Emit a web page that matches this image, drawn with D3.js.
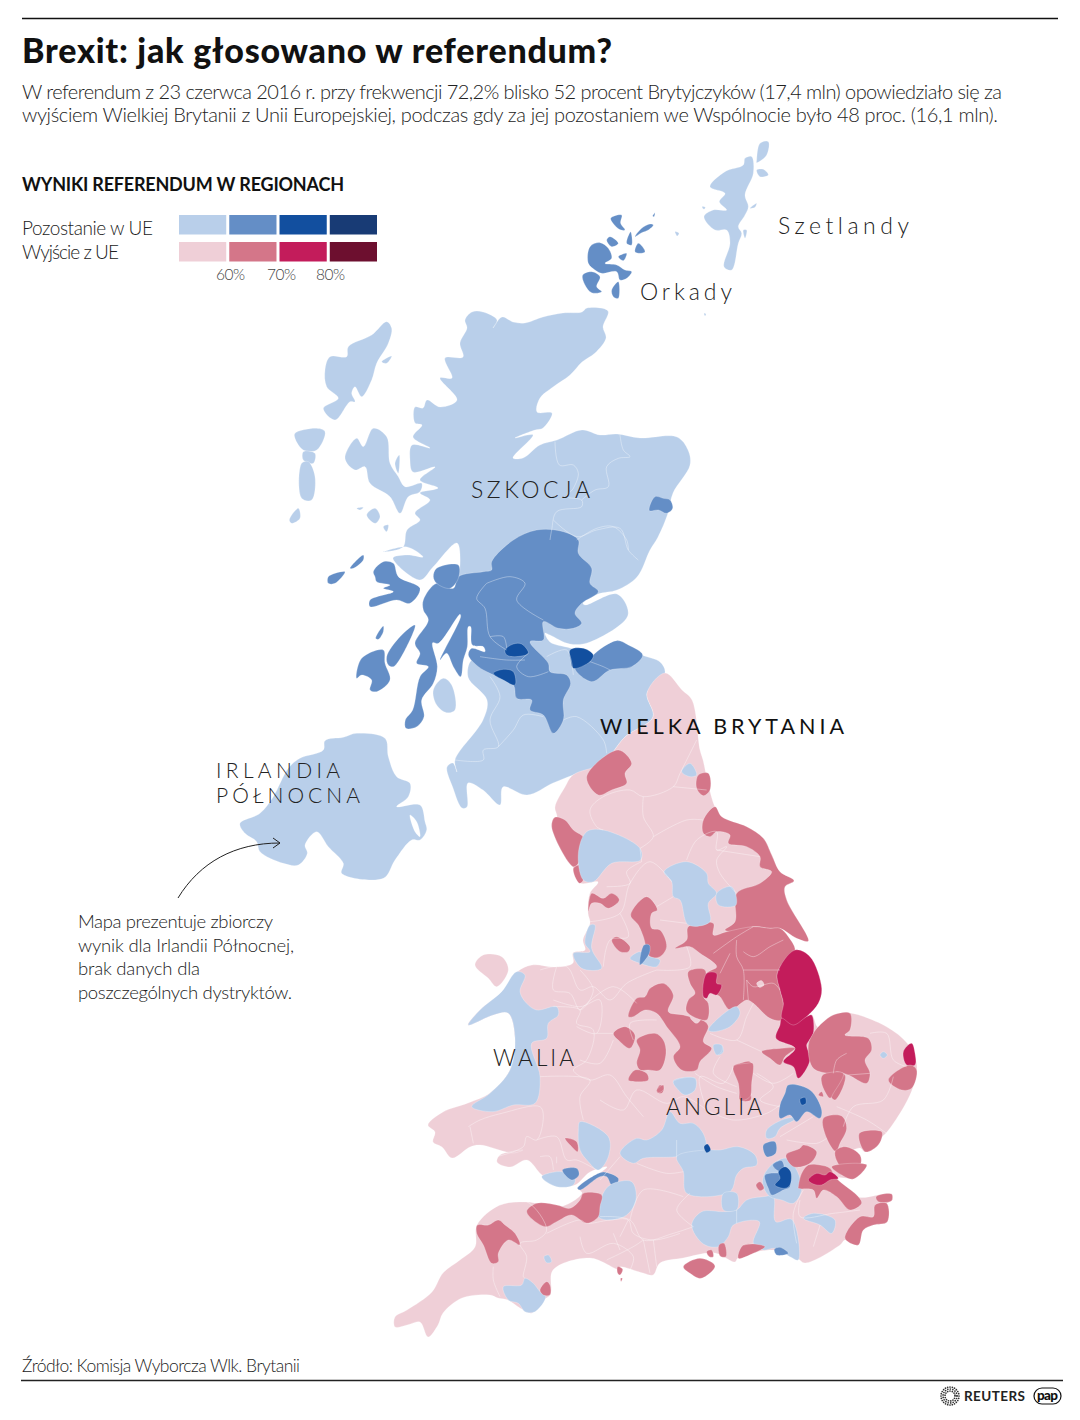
<!DOCTYPE html>
<html lang="pl">
<head>
<meta charset="utf-8">
<script src="https://cdn.jsdelivr.net/npm/d3@7"></script>
<style>
  html, body { margin: 0; background: #fff; }
  text { font-family: Lato, "Noto Sans", sans-serif; fill: #222; }
</style>
</head>
<body>
<div id="chart"></div>
<script>
const width = 1080, height = 1420;

// Legend
const legendRows = ["Pozostanie w UE", "Wyjście z UE"];
const legendTicks = ["60%", "70%", "80%"];
const remainColors = ["#b9cfea", "#648ec6", "#124f9f", "#183b75"];
const leaveColors = ["#efcfd7", "#d47689", "#c31c5b", "#6d0f2f"];
const noteLines = ["Mapa prezentuje zbiorczy", "wynik dla Irlandii Północnej,", "brak danych dla", "poszczególnych dystryktów."];

// Result classes used by the shapes below: 0-3 remain, 4-7 leave, 8 water
const classColors = remainColors.concat(leaveColors, ["#ffffff"]);

// Land shapes, [class, "x,y x,y ..."], in full size map units
const landMain = [
  [0, "472,312 483,312 497,320 493,328 502,317 513,322 525,323 543,317 563,313 582,312 587,308 608,311 603,327 606,338 595,353 582,362 570,375 553,387 540,398 537,412 552,413 543,428 535,430 515,438 533,435 513,458 523,458 540,445 557,440 582,430 600,435 617,434 640,438 677,437 688,450 690,465 673,493 668,513 658,537 650,550 637,577 617,590 598,594 583,603 585,605 617,594 628,615 590,642 570,644 550,635 545,633 550,642 570,648 593,655 617,642 642,655 660,662 665,673 647,693 653,717 625,737 603,763 573,775 553,783 527,795 503,787 500,805 483,790 468,783 467,807 462,808 453,788 447,767 453,763 457,772 455,760 483,720 487,700 468,677 472,660 493,667 490,637 477,600 457,583 460,567 457,543 433,567 420,580 393,558 407,555 423,557 407,547 383,552 403,547 407,530 420,520 415,513 430,500 420,493 438,488 420,480 435,467 413,472 410,460 412,445 430,448 413,437 422,425 415,423 415,407 423,408 427,400 440,407 457,400 440,378 452,378 445,358 463,357 460,343 467,328 465,320"],
  [4, "665,673 682,690 692,700 700,750 703,760 708,783 715,807 722,817 747,827 763,838 772,855 780,873 794,881 785,887 787,900 808,941 797,938 780,928 770,928 773,930 788,937 795,950 810,957 822,988 818,1003 807,1017 812,1015 818,1027 833,1015 850,1013 887,1027 907,1043 915,1057 917,1070 912,1090 902,1110 887,1132 882,1137 878,1145 865,1152 860,1148 847,1155 860,1163 867,1165 853,1178 838,1178 840,1182 858,1197 890,1194 892,1200 887,1203 887,1222 873,1225 863,1230 858,1245 845,1240 840,1245 805,1263 797,1258 773,1250 738,1258 735,1262 715,1253 683,1258 660,1263 653,1275 643,1273 620,1267 620,1270 590,1258 553,1270 550,1295 537,1303 532,1313 520,1308 508,1300 498,1298 490,1295 462,1298 443,1313 438,1325 428,1337 420,1322 407,1325 395,1327 395,1317 407,1310 432,1292 443,1273 460,1260 475,1247 477,1225 500,1205 527,1202 560,1207 582,1193 578,1188 600,1173 607,1167 590,1172 575,1185 560,1185 542,1175 527,1160 510,1167 497,1162 500,1155 523,1150 513,1153 480,1145 470,1147 452,1158 442,1147 433,1142 435,1132 428,1125 443,1112 468,1103 490,1093 510,1070 515,1038 508,1013 493,1015 468,1025 480,1010 502,992 517,972 532,965 555,967 573,963 573,953 585,950 583,940 590,923 588,913 590,893 598,882 580,883 573,867 552,827 557,817 555,807 565,787 573,775 603,763 625,737 653,717 647,693"]
];

// North: Scottish islands and the highlands, crop origin 280,130 at 3x
const landNorth = [
  [0, "1290,170 1335,125 1390,105 1395,85 1415,80 1420,130 1395,195 1405,230 1395,255 1375,290 1385,310 1375,340 1355,420 1332,410 1350,340 1340,300 1305,300 1272,260 1300,240 1340,240 1318,215 1335,190"],
  [0, "1430,90 1440,40 1465,35 1460,75 1430,98"],
  [0, "1430,120 1450,118 1465,135 1440,140"],
  [0, "1410,235 1430,220 1425,232"],
  [0, "1390,300 1400,300 1395,325"],
  [0, "1185,305 1197,310 1192,318"],
  [0, "1266,230 1276,232 1272,238"],
  [0, "1272,550 1278,552 1275,558"],
  [1, "925,400 930,350 960,338 985,355 995,385 975,400 1010,405 1035,420 1055,425 1040,445 1020,450 1010,425 965,430 945,420"],
  [1, "908,435 935,425 960,440 950,470 965,485 935,488 915,465"],
  [1, "995,480 1015,455 1015,505 1000,500"],
  [1, "980,330 990,320 1015,340 995,350"],
  [1, "992,265 1025,255 1022,280 1035,300 1018,298"],
  [1, "1065,320 1085,295 1110,282 1120,285 1105,300 1085,308"],
  [1, "1065,365 1075,340 1095,365 1080,370"],
  [1, "1040,340 1052,305 1055,345"],
  [1, "1015,380 1040,370 1030,392"],
  [1, "1118,258 1125,248 1122,260"],
  [0, "135,720 150,680 200,680 205,650 275,615 320,575 335,595 325,640 290,700 275,750 245,800 225,770 215,790 225,815 210,815 165,870 130,835 175,805 140,770"],
  [0, "305,695 335,678 320,700"],
  [0, "45,910 110,895 135,905 110,960 70,960 45,925"],
  [0, "70,965 105,970 100,1000 70,990"],
  [0, "65,1000 85,995 105,1040 95,1110 65,1105"],
  [0, "28,1170 55,1135 60,1165 35,1180"],
  [0, "195,985 230,925 250,950 280,895 320,920 330,1000 355,1040 375,1070 425,1060 420,1085 385,1100 360,1150 330,1100 270,1060 255,1010 225,1020"],
  [0, "345,1000 358,975 355,1030"],
  [0, "260,1155 285,1135 300,1160 285,1180"],
  [0, "310,1190 325,1185 320,1205"],
  [0, "230,1135 250,1132 240,1140"],
  [1, "1125,1100 1150,1105 1170,1110 1178,1135 1160,1150 1135,1140 1108,1142"]
];

// Central belt and Northern Ireland, crop origin 220,520 at 3x
const landCentral = [
  [0, "60,910 120,880 160,830 205,745 240,715 310,690 315,662 370,652 410,640 495,655 505,710 530,770 570,790 565,830 530,860 600,855 615,905 620,930 600,960 575,960 525,1020 490,1075 365,1060 370,1030 325,980 290,935 255,975 262,1000 235,1035 190,1030 120,995 110,965 75,940"],
  [8, "570,885 590,905 600,950 585,935"],
  [1, "815,125 880,60 950,30 1030,35 1075,60 1075,100 1115,145 1110,190 1135,215 1085,250 1065,280 1085,310 1060,325 1015,325 970,305 970,360 930,365 985,430 990,455 1040,465 1052,490 1030,540 1030,600 1000,640 970,585 930,570 935,540 890,535 880,495 810,460 775,440 745,405 755,385 795,395 790,380 757,375 752,320 745,320 742,380 730,420 722,470 700,440 680,400 660,420 722,290 720,283 655,370 638,368 652,440 640,490 605,540 612,590 590,620 558,625 556,600 578,570 600,470 625,440 590,430 600,400 585,370 625,300 610,270 610,240 650,190 700,205 715,170 790,155 815,150"],
  [1, "650,145 715,135 715,175 690,205 650,190 640,170"],
  [1, "460,155 490,125 520,130 535,170 600,205 570,250 530,240 450,260 450,240 520,215 490,205 510,195 470,185 465,170"],
  [1, "325,170 375,155 345,190 325,190"],
  [1, "390,145 430,105 430,120 400,145"],
  [1, "500,410 540,350 585,315 555,390 520,440 505,435"],
  [1, "410,475 425,415 490,390 495,430 510,480 470,515 450,510 455,480 425,465"],
  [1, "467,355 490,318 490,335 475,358"],
  [0, "640,510 670,475 695,495 705,570 680,578 650,555"],
  [1, "1120,405 1190,362 1225,375 1268,405 1235,440 1170,450 1115,485 1065,445 1110,425"],
  [2, "1050,390 1090,385 1120,405 1110,425 1060,445 1052,420"],
  [2, "855,390 880,372 905,372 925,400 885,410 860,405"],
  [2, "820,460 850,448 880,455 885,495 850,480"]
];

// North and midlands of England, crop origin 540,740 at 3x
const landEast = [
  [5, "35,260 45,232 75,240 100,270 132,295 115,370 100,380"],
  [5, "100,385 125,375 130,420 118,430"],
  [5, "140,110 235,30 275,70 255,100 260,130 215,150 175,165"],
  [0, "425,95 450,70 470,105 450,110"],
  [5, "475,105 505,100 510,150 490,167 470,145"],
  [5, "490,240 525,200 545,230 620,260 670,295 695,345 720,395 762,422 735,440 740,480 805,603 770,595 720,565 690,565 640,560 600,575 555,570 585,545 590,460 660,430 695,395 660,380 660,350 620,320 565,310 570,285 530,275 510,290 490,280"],
  [5, "445,560 520,550 520,585 560,575 640,560 690,565 720,565 745,590 765,630 740,655 712,700 720,750 730,790 725,840 690,835 640,790 620,780 570,810 540,770 530,765 510,760 490,770 500,700 530,680 480,640 450,620 405,625 440,600"],
  [4, "650,730 665,722 672,735 658,742"],
  [6, "712,700 765,630 810,650 845,745 835,790 800,830 760,860 725,835 730,790 720,750"],
  [6, "725,835 760,855 800,830 815,825 820,880 805,905 800,915 810,960 775,1015 760,980 730,965 765,925 708,895 720,855"],
  [5, "930,820 930,870 915,885 985,895 995,930 975,960 990,1000 980,1030 925,1005 890,995 880,1000 820,985 805,915 820,880 835,860 880,825"],
  [5, "845,1010 915,1005 885,1080 860,1050"],
  [6, "1090,935 1115,910 1125,940 1125,975 1100,975"],
  [5, "1045,1020 1110,975 1130,990 1115,1045 1085,1050"],
  [0, "1020,945 1030,935 1042,945 1030,955"],
  [5, "665,935 725,925 765,925 735,950 720,975 690,955"],
  [5, "265,830 290,775 315,770 330,745 370,730 400,765 385,815 430,825 495,845 505,860 490,905 515,925 480,965 470,990 425,990 400,950 420,920 380,860 350,820 315,810 280,830"],
  [4, "450,830 465,815 485,830 470,850"],
  [5, "220,880 255,860 285,885 270,925 240,905"],
  [5, "290,900 345,880 370,900 378,940 360,990 325,990 300,990 290,970 300,930"],
  [5, "265,1020 285,990 320,1000 325,1020 285,1025"],
  [5, "145,515 155,460 190,475 215,460 238,480 205,505 180,490 155,490"],
  [5, "272,525 320,470 352,510 335,520 335,565 360,570 380,620 360,650 330,650 310,590 295,555"],
  [5, "215,600 230,590 270,620 265,635 240,635"],
  [0, "270,655 300,635 330,650 360,660 350,680 300,670"],
  [1, "300,675 312,615 328,615 328,640"],
  [0, "135,610 150,555 165,555 155,625 185,685 125,685 100,640 150,635"],
  [0, "372,395 440,365 500,400 505,430 530,460 505,490 510,545 445,555 420,480 400,470 395,425"],
  [0, "530,460 575,440 588,495 535,495"],
  [0, "115,340 140,275 190,270 300,325 302,360 215,370 160,425 130,420"],
  [5, "445,695 495,690 490,770 505,790 500,840 440,815 445,780 465,760 450,730"],
  [6, "500,700 530,700 530,730 545,735 530,765 510,760 500,775 490,770"],
  [0, "505,870 540,830 590,800 600,820 570,860 515,875"],
  [5, "580,980 600,970 630,965 638,985 630,1040 632,1080 600,1080 600,1025"],
  [0, "525,920 545,915 550,935 535,945"],
  [0, "400,1022 465,1015 465,1045 440,1065 410,1040"],
  [5, "350,1055 360,1035 372,1045 365,1060"]
];

// Wales and the south west, crop origin 380,950 at 3x
const landWest = [
  [0, "410,65 435,75 420,125 440,160 470,180 530,170 535,195 505,220 500,265 455,280 480,380 465,460 400,465 340,485 275,470 330,430 390,360 405,265 385,190 340,195 265,225 300,180 365,125"],
  [4, "285,45 310,15 365,20 385,60 350,110 325,85"],
  [5, "555,565 590,575 593,605 575,590"],
  [0, "600,515 685,560 685,620 655,660 625,635 600,600 595,540"],
  [0, "485,680 545,665 585,685 580,705 530,710"],
  [1, "547,660 590,655 597,675 575,690"],
  [1, "592,715 660,668 682,668 715,685 712,700 695,705 680,680 660,680 600,720"],
  [0, "690,705 755,695 768,750 740,795 690,810 655,800 665,740"],
  [5, "440,785 470,760 530,765 570,775 600,750 610,730 665,735 660,770 655,800 620,820 575,795 530,815 495,830"],
  [5, "292,825 325,825 355,810 375,825 405,850 420,885 385,870 355,910 355,935 335,940 310,885 290,850"],
  [0, "492,920 505,915 515,935 500,938"],
  [0, "370,1010 425,1005 435,985 460,1000 480,1025 497,1040 465,1085 435,1085 415,1060 385,1050"],
  [5, "480,1020 500,995 510,1005 510,1035 490,1035"],
  [5, "713,950 728,958 720,975 713,970"],
  [5, "722,985 727,985 723,995"]
];

// South east with London, crop origin 600,1040 at 3x
const landSouth = [
  [0, "60,340 110,295 140,300 185,270 210,215 240,250 280,250 312,285 315,330 230,350 130,355 100,370"],
  [0, "230,350 315,330 360,330 415,320 465,345 470,375 430,385 410,405 390,455 260,460 250,395"],
  [0, "370,460 410,460 410,510 370,510"],
  [0, "275,555 305,515 370,515 410,510 440,480 490,470 520,470 527,545 575,538 595,660 570,650 525,625 490,630 460,610 478,545 400,555 385,590 355,620 310,612"],
  [0, "490,410 520,370 560,355 590,390 605,450 580,490 545,480 510,470 490,440"],
  [0, "500,270 560,235 590,235 540,265 525,290 500,295"],
  [0, "610,535 640,520 705,540 695,580 660,555"],
  [0, "220,125 285,115 285,150 255,165 235,150"],
  [1, "540,195 555,160 565,135 630,150 665,210 660,235 620,215 590,245 570,225 540,235"],
  [2, "600,178 615,172 618,190 605,195"],
  [1, "490,315 525,305 527,340 500,350"],
  [2, "312,320 322,312 332,330 320,338"],
  [1, "495,405 540,400 565,410 570,440 550,450 515,465 505,445 497,425"],
  [1, "518,375 545,362 552,385 540,395"],
  [2, "535,395 555,380 572,395 570,435 555,445 525,435 540,415"],
  [1, "523,628 540,622 565,640 530,645"],
  [5, "670,235 725,228 740,265 720,310 708,335 680,295"],
  [5, "778,280 845,275 845,295 830,320 795,335"],
  [5, "705,335 735,320 780,345 780,375 725,382"],
  [5, "695,380 800,375 760,417 725,405"],
  [5, "558,345 600,325 610,315 650,335 630,370 580,380"],
  [5, "595,440 605,400 625,375 660,375 690,385 705,410 720,425 775,470 785,490 750,510 710,470 670,450 650,475 640,450 595,445"],
  [5, "828,470 875,462 875,482 835,485"],
  [5, "825,495 860,490 862,545 820,555 790,570 775,615 735,595 780,530 820,530"],
  [6, "625,420 650,400 675,405 690,395 715,415 690,420 665,435 640,432"],
  [5, "468,435 480,425 492,445 480,452"],
  [5, "668,105 730,100 700,160 690,175 665,130"],
  [5, "400,80 440,70 458,70 455,130 450,170 425,180 415,130"],
  [5, "170,150 190,135 190,150 175,158"],
  [5, "250,680 300,655 345,678 303,715 270,700"],
  [5, "415,655 430,615 495,620 460,640"],
  [5, "320,635 335,630 340,650 328,650"],
  [5, "357,615 372,610 378,650 360,648"],
  [0, "340,15 365,15 365,35 350,45"],
  [5, "655,165 665,155 670,170"]
];

// Thin district borders, same crops as above
const bordersNorth = [
  "825,935 838,1005 880,1005 895,1030 880,1075 860,1100 905,1110 905,1130 830,1145 815,1200 810,1230",
  "1020,915 1030,960 1050,980 1015,985 980,1010 985,1070 945,1080 905,1110",
  "890,1230 950,1195 1000,1190 1040,1230 1045,1260"
];
const bordersCentral = [
  "1000,0 1070,50 1130,30 1200,25 1225,90 1255,120",
  "800,190 870,170 915,190 890,240 970,300",
  "800,190 770,235 795,265 810,350 860,390",
  "810,350 850,350 860,385",
  "925,400 890,440 925,470 985,455",
  "780,410 860,420 915,420",
  "810,470 840,530 810,600 835,680 790,690 790,720 705,720",
  "835,680 880,630 910,585 970,590",
  "1030,600 1070,590 1150,660 1160,700",
  "1060,465 1040,390 980,410",
  "1110,425 1150,440 1170,450"
];
const bordersEast = [
  "470,0 420,100 400,140 310,170 270,150 190,170 150,210 170,260 190,270",
  "310,170 310,230 340,290 300,325",
  "400,140 500,150",
  "340,290 440,240 490,240",
  "300,325 305,365",
  "305,365 260,395 270,430 200,440",
  "440,360 470,300 530,275 530,330 560,320 530,360 540,400 590,460",
  "530,330 660,350",
  "150,545 240,520 270,430 330,365 395,425",
  "240,520 265,590 210,600 190,680",
  "400,470 350,500",
  "360,540 440,550",
  "350,690 450,680 440,620",
  "0,690 80,680 120,750 160,740 210,780 260,730 350,690",
  "40,780 120,800 180,780 170,880 110,860",
  "170,880 220,880",
  "120,960 180,970 220,900",
  "350,840 270,850 280,900",
  "510,880 590,900 620,830 640,790",
  "590,900 665,935",
  "540,950 520,1000 590,1040",
  "465,1000 530,1040 590,1060",
  "640,1000 700,1030 760,1000",
  "590,600 590,650 610,690 610,780",
  "520,640 590,590 640,560",
  "610,635 640,650 690,620 730,600",
  "610,690 720,690",
  "620,720 640,740 700,730 720,750",
  "620,720 625,780",
  "540,700 570,640",
  "880,1000 890,960 920,940",
  "925,1005 990,1000",
  "990,880 1040,880 1060,960 1100,980"
];
const bordersWest = [
  "530,50 520,120 570,130 600,180 640,120 600,60",
  "600,180 700,110 770,160",
  "520,170 600,180 590,220 640,240 620,330 580,360 630,390 690,375 740,440 790,500",
  "480,380 630,390 600,440 610,510",
  "265,530 300,510 365,490 480,470 490,500 470,570 440,560 430,590 350,620",
  "270,530 280,580",
  "470,570 530,560 560,630 590,630 650,660",
  "480,620 510,620 520,660",
  "530,620 530,640",
  "360,765 440,755 500,840 470,870 420,880 440,920 430,980 435,985",
  "340,950 340,990 360,1040",
  "500,850 600,810 620,820 690,810 745,810 760,850 820,870 900,850",
  "600,860 620,910 700,880 760,920 750,960",
  "700,850 720,900",
  "820,870 830,950",
  "745,810 720,860"
];
const bordersSouth = [
  "0,180 70,210 110,150 200,190 250,170 320,210",
  "320,210 400,240 500,220 540,195",
  "320,210 300,110 370,130 400,80",
  "470,100 520,140 480,180 540,200",
  "540,290 640,230",
  "560,300 650,310 680,295",
  "730,260 760,200 850,180 880,110",
  "710,200 800,240 860,280",
  "0,530 90,540 130,600 220,580 280,560",
  "90,540 130,450 250,470",
  "110,370 200,400 250,395",
  "130,600 150,700",
  "270,460 230,510 280,560",
  "600,480 600,530 700,520 780,510",
  "660,555 640,620",
  "410,510 410,550",
  "610,450 580,520 590,610",
  "20,660 100,620 130,600",
  "230,350 230,300",
  "460,610 430,615",
  "0,420 60,350"
];

// Crop origin and zoom of each shape group, mapped through linear scales
function cropScales(originX, originY, zoom) {
  return {
    x: d3.scaleLinear().domain([0, zoom]).range([originX, originX + 1]),
    y: d3.scaleLinear().domain([0, zoom]).range([originY, originY + 1])
  };
}
const parsePoints = s => s.split(" ").map(p => p.split(",").map(Number));

const svg = d3.select("#chart")
    .append("svg")
    .attr("width", width)
    .attr("height", height)
    .style("display", "block");

const crops = [
  {shapes: landMain, borders: [], scales: cropScales(0, 0, 1)},
  {shapes: landNorth, borders: bordersNorth, scales: cropScales(280, 130, 3)},
  {shapes: landCentral, borders: bordersCentral, scales: cropScales(220, 520, 3)},
  {shapes: landEast, borders: bordersEast, scales: cropScales(540, 740, 3)},
  {shapes: landWest, borders: bordersWest, scales: cropScales(380, 950, 3)},
  {shapes: landSouth, borders: bordersSouth, scales: cropScales(600, 1040, 3)}
];

// Filled shapes, then the district borders above them
const fills = svg.append("g");
const borders = svg.append("g");

crops.forEach(crop => {
  const ring = d3.line()
      .x(d => crop.scales.x(d[0]))
      .y(d => crop.scales.y(d[1]))
      .curve(d3.curveCatmullRomClosed.alpha(0.5));
  const wiggle = d3.line()
      .x(d => crop.scales.x(d[0]))
      .y(d => crop.scales.y(d[1]))
      .curve(d3.curveCatmullRom.alpha(0.5));

  fills.selectAll(null)
      .data(crop.shapes)
      .enter()
      .append("path")
      .attr("d", d => ring(parsePoints(d[1])))
      .attr("fill", d => classColors[d[0]])
      .attr("stroke", "#fff")
      .attr("stroke-opacity", 0.4)
      .attr("stroke-width", 0.6)
      .attr("stroke-linejoin", "round");

  borders.selectAll(null)
      .data(crop.borders)
      .enter()
      .append("path")
      .attr("d", d => wiggle(parsePoints(d)))
      .attr("fill", "none")
      .attr("stroke", "#fff")
      .attr("stroke-opacity", 0.5)
      .attr("stroke-width", 0.7);
});

// Header
svg.append("line").attr("x1", 22).attr("x2", 1058).attr("y1", 18.5).attr("y2", 18.5)
    .attr("stroke", "#111").attr("stroke-width", 1.5);

function addText(str, x, y, size, weight, len, color) {
  const t = svg.append("text")
      .attr("x", x).attr("y", y)
      .attr("font-size", size)
      .attr("font-weight", weight)
      .text(str);
  if (len) t.attr("textLength", len).attr("lengthAdjust", "spacing");
  if (color) t.style("fill", color);
  return t;
}

addText("Brexit: jak głosowano w referendum?", 22, 63, 34, 900, 590, "#111");
addText("W referendum z 23 czerwca 2016 r. przy frekwencji 72,2% blisko 52 procent Brytyjczyków (17,4 mln) opowiedziało się za", 22, 99, 20, 300, 980);
addText("wyjściem Wielkiej Brytanii z Unii Europejskiej, podczas gdy  za jej pozostaniem we Wspólnocie było 48 proc. (16,1 mln).", 22, 122, 20, 300, 976);
addText("WYNIKI REFERENDUM W REGIONACH", 22, 191, 18, 700, 322, "#111");

// Legend
const swatchX = d3.scaleBand().domain(d3.range(4)).range([179, 377]).paddingInner(0.06);
[remainColors, leaveColors].forEach((row, r) => {
  svg.selectAll(null)
      .data(row)
      .enter()
      .append("rect")
      .attr("x", (d, i) => swatchX(i))
      .attr("y", 215 + r * 27)
      .attr("width", swatchX.bandwidth())
      .attr("height", 19.5)
      .attr("fill", d => d);
});
legendRows.forEach((d, i) => addText(d, 22, 234.5 + i * 24.5, 19, 300, i ? 97 : 131));
legendTicks.forEach((d, i) => {
  addText(d, [216, 267, 316][i], 280, 15.5, 300, 29, "#444");
});

// Region labels
addText("Szetlandy", 778, 234, 23, 300, 131);
addText("Orkady", 640, 300, 23, 300, 92);
addText("SZKOCJA", 471, 498, 23, 300, 119);
addText("WIELKA BRYTANIA", 600, 734, 21.5, 400, 244, "#111");
addText("IRLANDIA", 216, 778, 21, 300, 124);
addText("PÓŁNOCNA", 216, 803, 21, 300, 144);
addText("WALIA", 493, 1066, 22.5, 300, 81);
addText("ANGLIA", 666, 1115, 22.5, 300, 96);

// Note and its arrow
const arrow = d3.path();
arrow.moveTo(178, 898);
arrow.bezierCurveTo(200, 862, 235, 843, 280, 843);
arrow.moveTo(273, 838);
arrow.lineTo(280, 843);
arrow.lineTo(273, 848);
svg.append("path").attr("d", arrow.toString()).attr("fill", "none").attr("stroke", "#222").attr("stroke-width", 1);

const noteLen = [195, 216, 122, 214];
noteLines.forEach((d, i) => addText(d, 78, 928 + i * 23.7, 18.5, 300, noteLen[i]));

// Footer
addText("Źródło: Komisja Wyborcza Wlk. Brytanii", 22, 1372, 17.5, 300, 278);
svg.append("line").attr("x1", 21).attr("x2", 1063).attr("y1", 1380.5).attr("y2", 1380.5)
    .attr("stroke", "#222").attr("stroke-width", 1.5);

// Reuters dotted globe
const globe = svg.append("g").attr("transform", "translate(950,1396)");
[9, 7, 5].forEach((r, k) => {
  globe.selectAll(null)
      .data(d3.range(0, 360, 15 + k * 6))
      .enter()
      .append("circle")
      .attr("cx", d => r * Math.cos(d * Math.PI / 180))
      .attr("cy", d => r * Math.sin(d * Math.PI / 180))
      .attr("r", 0.85)
      .attr("fill", "#333");
});
addText("REUTERS", 964, 1401, 13.5, 700, 61, "#222");

svg.append("rect").attr("x", 1034).attr("y", 1388).attr("width", 27).attr("height", 16).attr("rx", 8)
    .attr("fill", "#fff").attr("stroke", "#111").attr("stroke-width", 1.2);
addText("pap", 1037, 1400, 13.5, 900, 21, "#111");
</script>
</body>
</html>
